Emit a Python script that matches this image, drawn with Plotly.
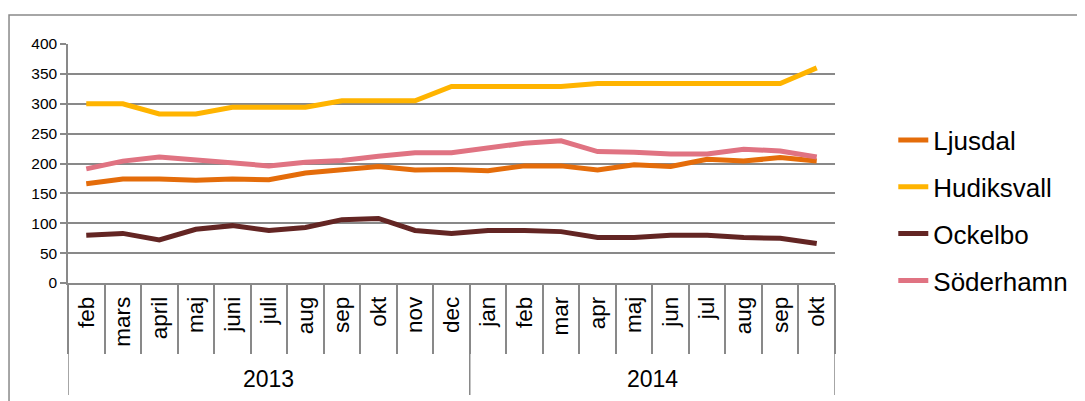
import plotly.graph_objects as go

years = ["2013"] * 11 + ["2014"] * 10
months = ["feb", "mars", "april", "maj", "juni", "juli", "aug", "sep", "okt", "nov", "dec",
          "jan", "feb", "mar", "apr", "maj", "jun", "jul", "aug", "sep", "okt"]

ljusdal = [166, 174, 174, 172, 174, 173, 184, 190, 195, 189, 190,
           188, 196, 196, 189, 198, 195, 207, 204, 210, 204]
hudiksvall = [300, 300, 283, 283, 294, 294, 294, 305, 305, 305, 329,
              329, 329, 329, 334, 334, 334, 334, 334, 334, 360]
ockelbo = [80, 83, 72, 90, 96, 88, 93, 106, 108, 88, 83,
           88, 88, 86, 76, 76, 80, 80, 76, 75, 66]
soderhamn = [191, 204, 211, 206, 202, 196, 202, 205, 212, 218, 218,
             225, 234, 238, 220, 219, 216, 216, 224, 221, 211]

series = [
    ("Ljusdal", ljusdal, "#E46C0A"),
    ("Hudiksvall", hudiksvall, "#FFB400"),
    ("Ockelbo", ockelbo, "#632523"),
    ("Söderhamn", soderhamn, "#E07382"),
]

keys = [f"{y} {m}" for y, m in zip(years, months)]
GRID = "#898989"
FONT = "Liberation Sans, Arial, sans-serif"

fig = go.Figure()
for name, vals, col in series:
    fig.add_trace(go.Scatter(x=keys, y=vals, name=name, mode="lines",
                             line=dict(color=col, width=5), legendgroup=name))

# year labels and dividers
annotations = []
shapes = []
unique_years = []
for y in years:
    if y not in unique_years:
        unique_years.append(y)
bounds = [-0.5]
for uy in unique_years:
    idx = [i for i, y in enumerate(years) if y == uy]
    annotations.append(dict(x=(idx[0] + idx[-1]) / 2, y=-0.4017, xref="x", yref="paper",
                            text=uy, showarrow=False, yanchor="middle",
                            font=dict(size=23, color="#000000", family=FONT)))
    bounds.append(idx[-1] + 0.5)
for b in bounds:
    shapes.append(dict(type="line", xref="x", yref="paper", x0=b, x1=b, y0=0, y1=-0.4686,
                       line=dict(color=GRID, width=1.5)))
# outer chart border
shapes.append(dict(type="rect", xref="paper", yref="paper", x0=-0.0769, x1=1.34,
                   y0=-0.56, y1=1.1213, line=dict(color=GRID, width=1.5)))

# page body has an 8px margin, so the figure is drawn 8px smaller and offset
fig.update_layout(
    width=1077, height=393,
    margin=dict(l=60, r=250, t=36, b=118),
    paper_bgcolor="white", plot_bgcolor="white",
    font=dict(family=FONT, color="#000000"),
    showlegend=True,
    legend=dict(x=1.076, y=0.303, xanchor="left", yanchor="middle",
                font=dict(size=26, family=FONT), tracegroupgap=10,
                bgcolor="rgba(0,0,0,0)"),
    annotations=annotations,
    shapes=shapes,
)
fig.update_xaxes(
    type="category", categoryorder="array", categoryarray=keys,
    range=[-0.5, len(keys) - 0.5],
    tickvals=keys, ticktext=months, tickangle=-90,
    ticks="outside", tickson="boundaries", ticklen=69, tickwidth=1.5, tickcolor=GRID,
    ticklabelstandoff=3,
    showline=True, linecolor=GRID, linewidth=1.5, showgrid=False,
    tickfont=dict(size=22.5, family=FONT, color="#000000"),
)
fig.update_yaxes(
    range=[0, 400], dtick=50, tick0=0,
    ticks="outside", ticklen=6, tickwidth=1.5, tickcolor=GRID,
    showline=True, linecolor=GRID, linewidth=1.5,
    showgrid=True, gridcolor=GRID, gridwidth=1.5, zeroline=False,
    tickfont=dict(size=15.5, family=FONT, color="#000000"),
)

fig.write_html("out.html")
